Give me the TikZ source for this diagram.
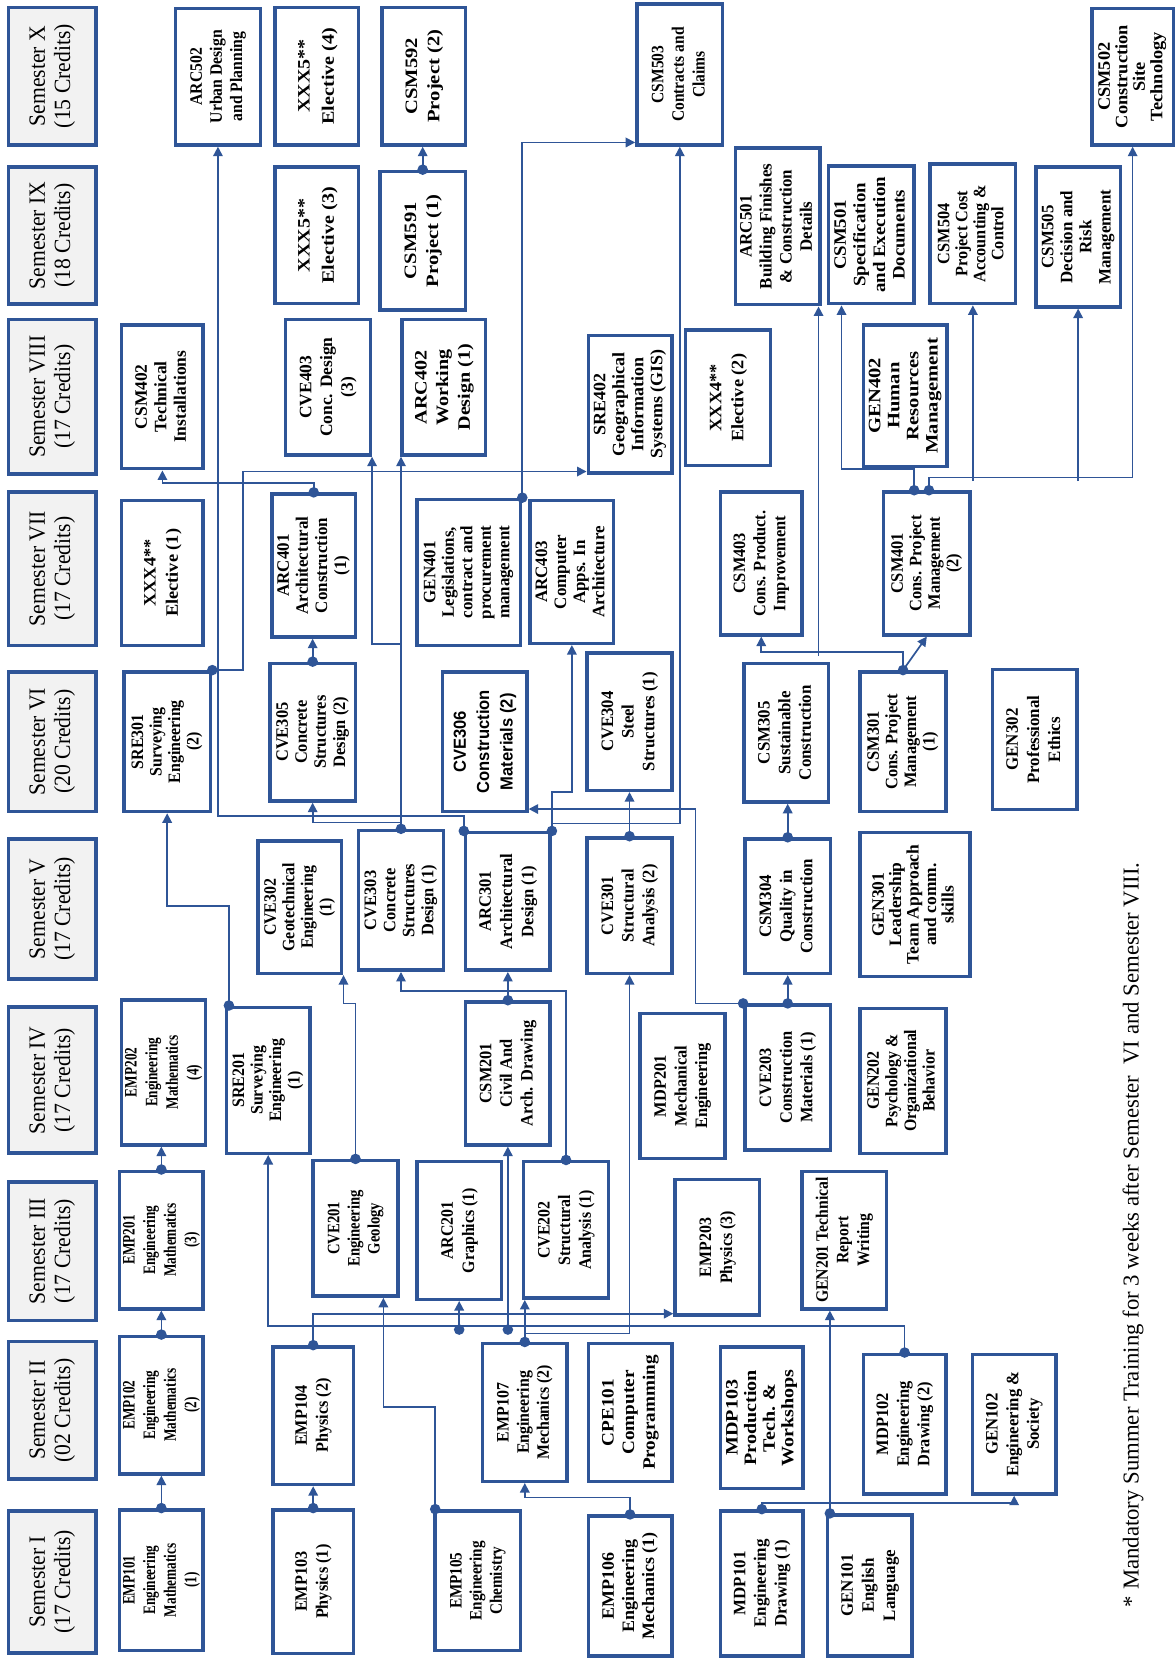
\documentclass[tikz,border=0pt]{standalone}
\usepackage{fontspec}
\setmainfont{Liberation Serif}
\newfontfamily\cvsans{Liberation Sans}
\usetikzlibrary{arrows.meta,calc}
\definecolor{bc}{RGB}{47,85,151}
\definecolor{hdr}{RGB}{242,242,242}
\newcommand\rtx[4]{\rotatebox{90}{\scalebox{#1}[1]{\fontsize{#2}{#3}\selectfont\begin{tabular}{@{}c@{}}#4\end{tabular}}}}
\newcommand\cbox[9]{\node[course, minimum width={(#4)-(#2)}, minimum height={(#5)-(#3)}] (#1) at ({((#2)+(#4))/2},{((#3)+(#5))/2}) {\rtx{#6}{#7}{#8}{#9}};}
\newcommand\sembox[4]{\node[semhead, minimum width=83, minimum height={(#3)-(#2)}] (#1) at (49.5,{((#2)+(#3))/2}) {\rtx{0.93}{22}{24}{#4}};}
\newcommand\dt[1]{\fill[bc] #1 circle[radius=5pt];}
\tikzset{
  course/.style={draw=bc, line width=3.3pt, fill=white, inner sep=0pt, font=\bfseries},
  semhead/.style={draw=bc, line width=3.5pt, fill=hdr, inner sep=0pt},
  arr/.style={draw=bc, line width=1.6pt, -{Triangle[length=9pt,width=9pt]}},
}
\begin{document}
\begin{tikzpicture}[x=1pt,y=-1pt]
\fill[white] (0,0) rectangle (1111,1568);
\useasboundingbox (0,0) rectangle (1111,1568);
% semester headers
\sembox{hX}{7}{137}{Semester X\\(15 Credits)}
\sembox{hIX}{158}{287}{Semester IX\\(18 Credits)}
\sembox{hVIII}{302}{448}{Semester VIII\\(17 Credits)}
\sembox{hVII}{465}{610}{Semester VII\\(17 Credits)}
\sembox{hVI}{635}{767}{Semester VI\\(20 Credits)}
\sembox{hV}{793}{925}{Semester V\\(17 Credits)}
\sembox{hIV}{952}{1090}{Semester IV\\(17 Credits)}
\sembox{hIII}{1117}{1248}{Semester III\\(17 Credits)}
\sembox{hII}{1268}{1398}{Semester II\\(02 Credits)}
\sembox{hI}{1428}{1562}{Semester I\\(17 Credits)}
% Semester X
\cbox{arc502}{166}{8}{246}{137}{0.9}{16.5}{19}{ARC502\\Urban Design\\and Planning}
\cbox{xxx5b}{260}{7}{339}{137}{1.15}{16.5}{23}{XXX5**\\Elective (4)}
\cbox{csm592}{361}{7}{440}{137}{1.18}{16.5}{21}{CSM592\\Project (2)}
\cbox{csm503}{602}{4}{683}{137}{0.89}{16.5}{19.5}{CSM503\\Contracts and\\Claims}
\cbox{csm502}{1032}{8}{1109}{137}{1.05}{16.5}{16.5}{CSM502\\Construction\\Site\\Technology}
% Semester IX
\cbox{xxx5a}{260}{158}{339}{287}{1.15}{16.5}{23}{XXX5**\\Elective (3)}
\cbox{csm591}{359}{162}{440}{293}{1.18}{16.5}{21}{CSM591\\Project (1)}
\cbox{arc501}{695}{140}{775}{288}{0.97}{16.5}{19}{ARC501\\Building Finishes\\\& Construction\\Details}
\cbox{csm501}{783}{157}{864}{287}{1.08}{16.5}{18.5}{CSM501\\Specification\\and Execution\\Documents}
\cbox{csm504}{879}{155}{960}{287}{0.93}{16.5}{17}{CSM504\\Project Cost\\Accounting \&\\Control}
\cbox{csm505}{979}{158}{1059}{290}{0.97}{16.5}{18}{CSM505\\Decision and\\Risk\\Management}
% Semester VIII
\cbox{csm402}{115}{307}{192}{443}{1}{16.5}{18.5}{CSM402\\Technical\\Installations}
\cbox{cve403}{270}{302}{350}{430}{1}{16.5}{19.5}{CVE403\\Conc. Design\\(3)}
\cbox{arc402}{380}{302}{459}{430}{1.15}{16.5}{20.5}{ARC402\\Working\\Design (1)}
\cbox{sre402}{556}{317}{635}{447}{1.03}{16.5}{18}{SRE402\\Geographical\\Information\\Systems (GIS)}
\cbox{xxx4b}{648}{312}{728}{440}{1.05}{16.5}{21}{XXX4**\\Elective (2)}
\cbox{gen402}{816}{307}{895}{441}{1.18}{16.5}{18}{GEN402\\Human\\Resources\\Management}
% Semester VII
\cbox{xxx4a}{115}{473}{192}{610}{1.05}{16.5}{21}{XXX4**\\Elective (1)}
\cbox{arc401}{257}{467}{336}{602}{0.97}{16.5}{18}{ARC401\\Architectural\\Construction\\(1)}
\cbox{gen401}{394}{472}{492}{610}{0.97}{16.5}{17.5}{GEN401\\Legislations,\\contract and\\procurement\\management}
\cbox{arc403}{501}{473}{580}{608}{0.97}{16.5}{18}{ARC403\\Computer\\Apps. In\\Architecture}
\cbox{csm403}{681}{465}{758}{600}{0.94}{16.5}{19}{CSM403\\Cons. Product.\\Improvement}
\cbox{csm401}{835}{465}{917}{600}{0.94}{16.5}{17.5}{CSM401\\Cons. Project\\Management\\(2)}
% Semester VI
\cbox{sre301}{117}{635}{199}{767}{0.91}{16.5}{17.5}{SRE301\\Surveying\\Engineering\\(2)}
\cbox{cve305}{255}{627}{336}{757}{0.94}{16.5}{18}{CVE305\\Concrete\\Structures\\Design (2)}
\node[course, font=\cvsans\bfseries, minimum width=80, minimum height=132] (cve306) at (458,701) {\rtx{0.95}{16.5}{22}{CVE306\\Construction\\Materials (2)}};
\cbox{cve304}{555}{617}{635}{747}{0.96}{16.5}{19.5}{CVE304\\Steel\\Structures (1)}
\cbox{csm305}{703}{627}{783}{758}{0.97}{16.5}{19.5}{CSM305\\Sustainable\\Construction}
\cbox{csm301}{813}{635}{894}{767}{0.94}{16.5}{17.5}{CSM301\\Cons. Project\\Management\\(1)}
\cbox{gen302}{938}{633}{1018}{765}{0.97}{16.5}{20}{GEN302\\Professional\\Ethics}
% Semester V
\cbox{cve302}{244}{795}{323}{920}{0.91}{16.5}{17.5}{CVE302\\Geotechnical\\Engineering\\(1)}
\cbox{cve303}{339}{785}{419}{917}{0.94}{16.5}{18}{CVE303\\Concrete\\Structures\\Design (1)}
\cbox{arc301}{440}{787}{520}{917}{0.95}{16.5}{20}{ARC301\\Architectural\\Design (1)}
\cbox{cve301}{555}{792}{635}{920}{0.94}{16.5}{19.5}{CVE301\\Structural\\Analysis (2)}
\cbox{csm304}{704}{793}{785}{920}{0.97}{16.5}{19.5}{CSM304\\Quality in\\Construction}
\cbox{gen301}{813}{787}{917}{923}{1}{16.5}{16.5}{GEN301\\Leadership\\Team Approach\\and comm.\\skills}
% Semester IV
\cbox{emp202}{115}{945}{194}{1082}{0.76}{16.5}{19.5}{EMP202\\Engineering\\Mathematics\\(4)}
\cbox{sre201}{214}{952}{293}{1090}{0.91}{16.5}{17.5}{SRE201\\Surveying\\Engineering\\(1)}
\cbox{csm201}{440}{947}{520}{1082}{0.94}{16.5}{19.5}{CSM201\\Civil And\\Arch. Drawing}
\cbox{mdp201}{605}{958}{685}{1095}{0.94}{16.5}{19.5}{MDP201\\Mechanical\\Engineering}
\cbox{cve203}{704}{950}{785}{1087}{0.94}{16.5}{19.5}{CVE203\\Construction\\Materials (1)}
\cbox{gen202}{813}{953}{894}{1090}{0.91}{16.5}{17.5}{GEN202\\Psychology \&\\Organizational\\Behavior}
% Semester III
\cbox{emp201}{113}{1107}{192}{1237}{0.76}{16.5}{19.5}{EMP201\\Engineering\\Mathematics\\(3)}
\cbox{cve201}{296}{1097}{376}{1225}{0.84}{16.5}{19}{CVE201\\Engineering\\Geology}
\cbox{arc201}{394}{1098}{474}{1228}{0.91}{16.5}{20}{ARC201\\Graphics (1)}
\cbox{cve202}{495}{1098}{575}{1227}{0.91}{16.5}{19.5}{CVE202\\Structural\\Analysis (1)}
\cbox{emp203}{638}{1115}{718}{1243}{0.91}{16.5}{20}{EMP203\\Physics (3)}
\cbox{gen201}{758}{1107}{838}{1237}{0.9}{16.5}{19.5}{GEN201 Technical\\Report\\Writing}
% Semester II
\cbox{emp102}{113}{1263}{192}{1393}{0.76}{16.5}{19.5}{EMP102\\Engineering\\Mathematics\\(2)}
\cbox{emp104}{258}{1273}{334}{1403}{0.93}{16.5}{20}{EMP104\\Physics (2)}
\cbox{emp107}{456}{1270}{536}{1400}{0.91}{16.5}{19}{EMP107\\Engineering\\Mechanics (2)}
\cbox{cpe101}{556}{1270}{635}{1400}{1.1}{16.5}{19.5}{CPE101\\Computer\\Programming}
\cbox{mdp103}{681}{1273}{759}{1407}{1.15}{16.5}{17.6}{MDP103\\Production\\Tech. \&\\Workshops}
\cbox{mdp102}{816}{1280}{894}{1412}{0.94}{16.5}{19.5}{MDP102\\Engineering\\Drawing (2)}
\cbox{gen102}{919}{1280}{998}{1412}{0.96}{16.5}{19.5}{GEN102\\Engineering \&\\Society}
% Semester I
\cbox{emp101}{113}{1427}{192}{1560}{0.76}{16.5}{19.5}{EMP101\\Engineering\\Mathematics\\(1)}
\cbox{emp103}{258}{1427}{334}{1563}{0.93}{16.5}{20}{EMP103\\Physics (1)}
\cbox{emp105}{411}{1428}{492}{1560}{0.87}{16.5}{19}{EMP105\\Engineering\\Chemistry}
\cbox{emp106}{556}{1433}{635}{1565}{1.03}{16.5}{19}{EMP106\\Engineering\\Mechanics (1)}
\cbox{mdp101}{681}{1428}{759}{1565}{0.97}{16.5}{19.5}{MDP101\\Engineering\\Drawing (1)}
\cbox{gen101}{782}{1432}{862}{1565}{0.97}{16.5}{20}{GEN101\\English\\Language}
% footnote
\node[rotate=90, inner sep=0pt, font=\fontsize{21.5}{24}\selectfont] (note) at (1071,1167) {* Mandatory Summer Training for 3 weeks after Semester\ \ VI and Semester VIII.};
% connectors
\draw[arr] (emp101.north) -- (emp101.north |- emp102.south);
\draw[arr] (emp102.north) -- (emp102.north |- emp201.south);
\draw[arr] (emp201.north) -- (emp201.north |- emp202.south);
\draw[arr] (emp103.north) -- (emp103.north |- emp104.south);
\draw[arr] (emp104.north) |- ($(emp203.south west)+(0,-3)$);
\draw[arr] ($(emp105.north west)+(2,0)$) |- ($(cve201.south west)+(68,103)$) -- ($(cve201.south west)+(68,0)$);
\draw[arr] (emp106.north) -- ++(0,-16) -| (emp107.south);
\draw[arr] (emp107.north) -- (emp107.north |- cve202.south);
\draw[arr] (emp107.north) -- ++(0,-8) -| (cve301.south);
\draw[arr] (mdp102.north) -- ++(0,-25) -| (sre201.south);
\draw[arr] ($(arc201.south)+(0,27)$) -- (arc201.south);
\draw[arr] ($(csm201.south)+(0,173)$) -- (csm201.south);
\draw[arr] (mdp101.north) -- ++(0,-6) -| (gen102.south);
\draw[arr] ($(gen101.north west)+(4,0)$) -- ($(gen201.south west)+(28,0)$);
\draw[arr] (cve201.north) -- ++(0,-147) -| (cve302.south east);
\draw[arr] (cve202.north) -- ++(0,-160) -| (cve303.south);
\draw[arr] (csm201.north) -- (csm201.north |- arc301.south);
\draw[arr] ($(sre201.north west)+(4,0)$) -- ++(0,-94) -| (sre301.south);
\draw[arr] (cve203.north west) -- ++(-45,0) |- ($(cve306.south east)+(0,-4)$);
\draw[arr] (cve203.north) -- (cve203.north |- csm304.south);
\draw[arr] (csm304.north) -- (csm304.north |- csm305.south);
\draw[arr] (cve301.north) -- (cve301.north |- cve304.south);
\draw[arr] (arc301.north east) -- ++(0,-37) -| (arc403.south);
\draw[arr] (arc301.north east) -- ++(0,-7) -| (csm503.south);
\draw[arr] (arc301.north west) -- ++(0,-14) -| (arc502.south);
\draw[arr] (cve303.north) -- (cve303.north |- arc402.south);
\draw[arr] ($(cve303.north)+(0,-175)$) -| (cve403.south east);
\draw[arr] (cve303.north) -- ++(0,-6) -| (cve305.south);
\draw[arr] (cve305.north) -- (cve305.north |- arc401.south);
\draw[arr] (arc401.north) -- ++(0,-9) -| (csm402.south);
\draw[arr] (sre301.north east) -- ++(29,0) |- ($(sre402.south west)+(0,-3)$);
\draw[arr] (gen401.north east) |- ($(csm503.south west)+(0,-4)$);
\draw[arr] (csm591.north) -- (csm591.north |- csm592.south);
\draw[arr] (csm301.north) -- (csm401.south);
\draw[arr] (csm301.north) -- ++(0,-17) -| (csm403.south);
\draw[arr] ($(arc501.south east)+(-3,330)$) -- ($(arc501.south east)+(-3,0)$);
\draw[arr] ($(csm401.north)+(-12,0)$) -- ++(0,-20) -| ($(csm501.south west)+(14,0)$);
\draw[arr] ($(csm401.north)+(2,0)$) -- ++(0,-12) -| (csm502.south);
\draw[arr] ($(csm504.south)+(0,166)$) -- (csm504.south);
\draw[arr] ($(csm505.south)+(0,163)$) -- (csm505.south);
% dots
\dt{(emp101.north)} \dt{(emp102.north)} \dt{(emp201.north)} \dt{(emp103.north)}
\dt{(emp104.north)} \dt{($(emp105.north west)+(2,0)$)} \dt{(emp106.north)} \dt{(emp107.north)}
\dt{(mdp102.north)} \dt{(mdp101.north)} \dt{($(gen101.north west)+(4,0)$)}
\dt{($(arc201.south)+(0,27)$)} \dt{($(csm201.south)+(0,173)$)}
\dt{(cve201.north)} \dt{(cve202.north)} \dt{(csm201.north)} \dt{($(sre201.north west)+(4,0)$)}
\dt{(cve203.north west)} \dt{(cve203.north)} \dt{(csm304.north)} \dt{(cve301.north)}
\dt{(arc301.north east)} \dt{(arc301.north west)} \dt{(cve303.north)} \dt{(cve305.north)}
\dt{(arc401.north)} \dt{(sre301.north east)} \dt{(gen401.north east)} \dt{(csm591.north)}
\dt{(csm301.north)} \dt{($(csm401.north)+(-12,0)$)} \dt{($(csm401.north)+(2,0)$)}
\end{tikzpicture}
\end{document}
